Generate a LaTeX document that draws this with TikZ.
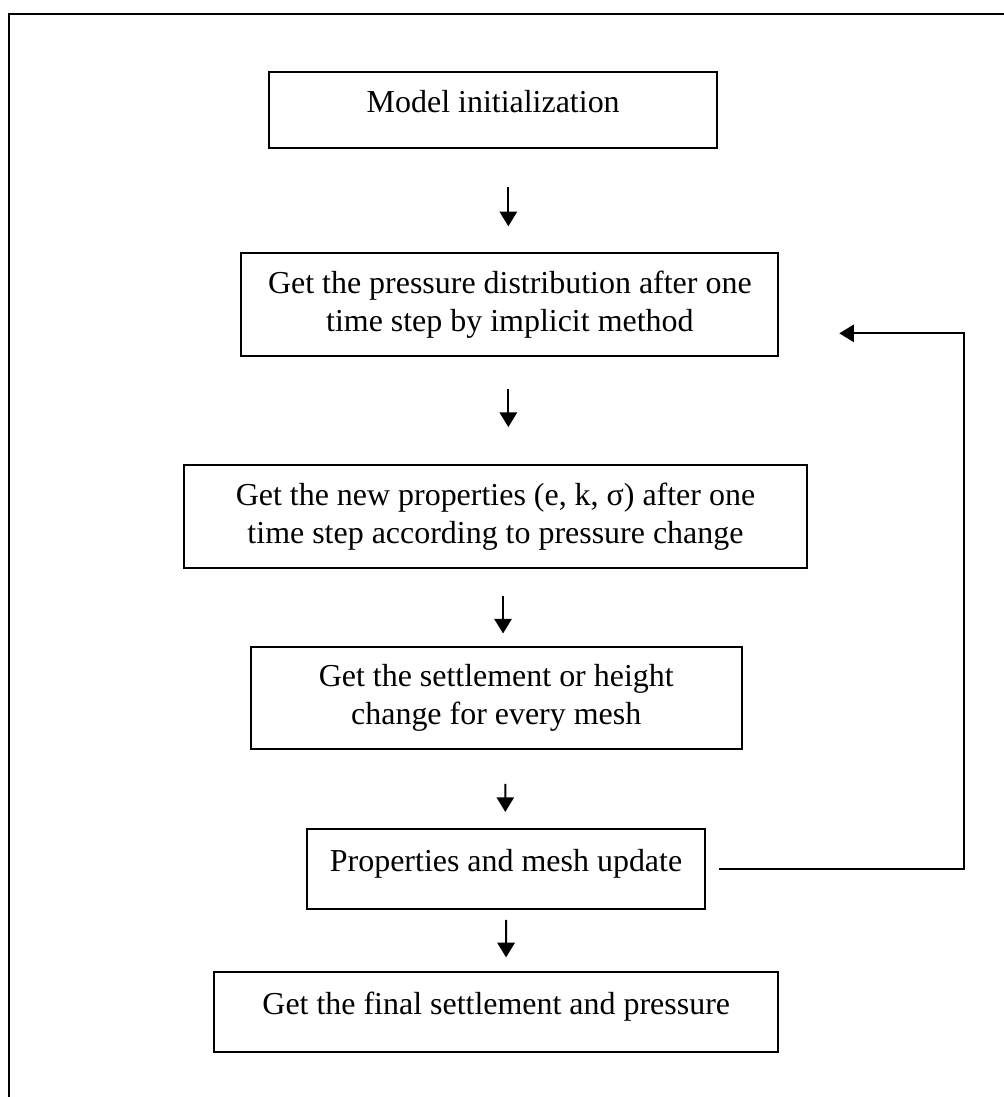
\documentclass[tikz,border=0pt]{standalone}
\usepackage{fontspec}
\setmainfont{Liberation Serif}
\usepackage{tikz}
\usetikzlibrary{arrows.meta}
\tikzstyle{stepbox}=[rectangle,draw=black,line width=0.75pt,fill=white,inner sep=2pt,align=center,font=\fontsize{12pt}{14.3pt}\selectfont]
\tikzstyle{oneline}=[text height=8.2pt,text depth=6.2pt]
\tikzstyle{edge} = [draw,line width=0.75pt,-{Triangle[length=5.5pt,width=6.5pt]}]
\tikzstyle{frameline} = [draw,line width=0.75pt]

\begin{document}
\begin{tikzpicture}

    \useasboundingbox (0,0) rectangle (13.25,-14.48);
    \path[frameline] (13.25,-0.185) -| (0.12,-14.48);

    \foreach \pos/\name/\bw/\bh/\label in {{(6.51,-1.45)/init/5.91/1.00/Model initialization}, {(6.68,-11.47)/update/5.25/1.06/Properties and mesh update}, {(6.55,-13.36)/final/7.45/1.06/Get the final settlement and pressure}}
        \node[stepbox,oneline,minimum width=\bw cm,minimum height=\bh cm] (\name) at \pos {\label};

    \foreach \pos/\name/\bw/\bh/\label in {{(6.73,-4.02)/press/7.09/1.36/{Get the pressure distribution after one\\time step by implicit method}}, {(6.54,-6.82)/prop/8.22/1.36/{Get the new properties (e, k, σ) after one\\time step according to pressure change}}, {(6.55,-9.21)/settle/6.48/1.35/{Get the settlement or height\\change for every mesh}}}
        \node[stepbox,minimum width=\bw cm,minimum height=\bh cm] (\name) at \pos {\label};

    \foreach \source/\dest/\dx/\ga/\ex/\gb in {init/press/0.20/0.51/-0.02/0.34, press/prop/-0.02/0.42/0.17/0.49, prop/settle/0.10/0.36/0.09/0.16, settle/update/0.12/0.45/-0.01/0.21, update/final/0.00/0.13/0.13/0.18}
        \path[edge] ([shift={(\dx,-\ga)}]\source.south) -- ([shift={(\ex,\gb)}]\dest.north);

    \path[edge] ([xshift=0.17cm]update.east) -- ++(3.23,0) |- ([shift={(0.79,-0.38)}]press.east);

\end{tikzpicture}
\end{document}
